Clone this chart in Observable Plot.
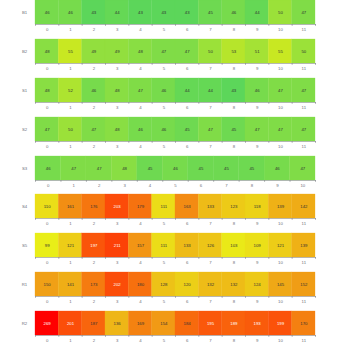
<!DOCTYPE html>
<html>
<head>
<meta charset="utf-8">
<script src="https://cdn.jsdelivr.net/npm/d3@7"></script>
<script src="https://cdn.jsdelivr.net/npm/@observablehq/plot@0.6"></script>
<style>
  html, body { margin: 0; padding: 0; background: #fff; }
  #chart { position: relative; width: 350px; height: 350px; overflow: hidden; }
  #chart svg { position: absolute; left: 0; }
</style>
</head>
<body>
<div id="chart"></div>
<script>
const rowNames = ["B1", "B2", "S1", "S2", "S3", "S4", "S5", "R1", "R2"];
const B1 = [46, 46, 43, 44, 43, 43, 43, 45, 46, 44, 50, 47];
const B2 = [48, 55, 49, 49, 48, 47, 47, 50, 53, 51, 55, 50];
const S1 = [48, 52, 46, 48, 47, 46, 44, 44, 43, 46, 47, 47];
const S2 = [47, 50, 47, 48, 46, 46, 45, 47, 45, 47, 47, 47];
const S3 = [46, 47, 47, 48, 45, 46, 45, 45, 45, 46, 47];
const S4 = [110, 161, 176, 203, 179, 111, 163, 133, 123, 118, 139, 142];
const S5 = [99, 121, 197, 211, 157, 111, 133, 126, 103, 109, 121, 139];
const R1 = [150, 141, 173, 202, 180, 128, 120, 132, 132, 124, 145, 152];
const R2 = [269, 201, 187, 136, 169, 154, 184, 195, 189, 193, 199, 170];
const ticks12 = ["0", "1", "2", "3", "4", "5", "6", "7", "8", "9", "10", "11"];
const ticks11 = ["0", "1", "2", "3", "4", "5", "6", "7", "8", "9", "10"];

const series = [B1, B2, S1, S2, S3, S4, S5, R1, R2];
const tickSets = [ticks12, ticks12, ticks12, ticks12, ticks11, ticks12, ticks12, ticks12, ticks12];

const colorDomain = [43, 55, 100, 150, 205, 269];
const colorRange = ["#5cd65a", "#c8e822", "#eaee18", "#f0a016", "#fc4808", "#ff0000"];

const container = document.getElementById("chart");
const rowStep = 38.875;
const grey = "#6e7079";
const fs = 4.3;

rowNames.forEach((name, r) => {
  const vals = series[r];
  const labels = tickSets[r];
  const n = vals.length;
  const data = vals.map((v, i) => ({i, v, name}));
  const svg = Plot.plot({
    width: 350,
    height: 39,
    marginTop: 0,
    marginBottom: 15,
    marginLeft: 35,
    marginRight: 35,
    style: {fontFamily: "sans-serif", fontSize: fs + "px", background: "transparent", overflow: "visible"},
    x: {type: "linear", domain: [0, n], axis: null, label: null},
    y: {type: "band", domain: [name], padding: 0, axis: null, label: null},
    color: {type: "linear", domain: colorDomain, range: colorRange, interpolate: "rgb"},
    marks: [
      Plot.barX(data, {x1: "i", x2: d => d.i + 1, y: "name", fill: "v", stroke: "v", strokeWidth: 0.3}),
      Plot.text(data, {
        x: d => d.i + 0.5, y: "name", text: d => String(d.v),
        fill: d => d.v >= 188 ? "#ffffff" : "#333333", fontSize: fs
      }),
      Plot.frame({anchor: "bottom", stroke: grey, strokeWidth: 0.6, strokeOpacity: 0.8}),
      Plot.axisX({ticks: d3.range(n + 1), tickFormat: () => "", tickSize: 2, stroke: grey, strokeWidth: 0.5, strokeOpacity: 0.9, label: null}),
      Plot.axisX({ticks: d3.range(n).map(i => i + 0.5), tickFormat: d => labels[Math.round(d - 0.5)], tickSize: 0, tickPadding: 3.6, fill: grey, fontSize: fs, label: null}),
      Plot.axisY({tickSize: 0, tickPadding: 8.3, fill: grey, fontSize: fs, label: null})
    ]
  });
  svg.style.top = (r * rowStep) + "px";
  container.appendChild(svg);
});
</script>
</body>
</html>
